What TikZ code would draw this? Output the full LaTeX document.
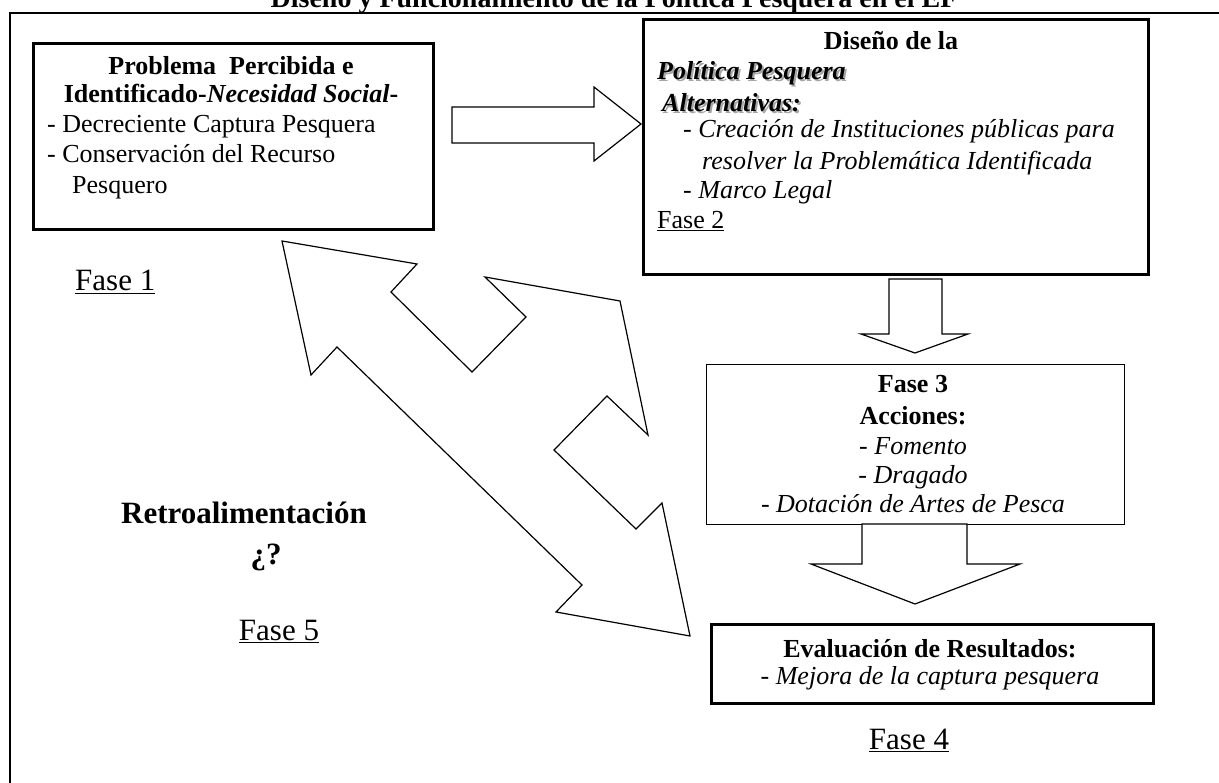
\documentclass[tikz,border=0pt]{standalone}
\usepackage{fontspec}
\setmainfont{Liberation Serif}
\begin{document}
\begin{tikzpicture}[x=1pt,y=-1pt,
  frame/.style={line width=2.6pt},
  thickbox/.style={draw, line width=2.8pt, inner sep=0pt, anchor=north west},
  thinbox/.style={draw, line width=1.4pt, inner sep=0pt, anchor=north west},
  blockarrow/.style={draw, line width=1.2pt, fill=white, line join=miter},
  txt/.style={inner sep=0pt, font=\fontsize{26}{30}\selectfont},
  big/.style={inner sep=0pt, font=\fontsize{31}{36}\selectfont},
  shadowtxt/.style={inner sep=0pt, font=\fontsize{26}{30}\selectfont, text=black!35},
]
\useasboundingbox (0,0) rectangle (1219,783);
\clip (0,0) rectangle (1219,783);
\draw[frame] (10,13) rectangle (1260,820);
\node[inner sep=0pt, anchor=base, font=\fontsize{28}{32}\selectfont\bfseries] (title) at (614,8) {Diseño y Funcionamiento de la Política Pesquera en el EF};

% boxes
\node[thickbox, minimum width=400pt, minimum height=186pt] (b1) at (32,42) {};
\node[thickbox, minimum width=505pt, minimum height=255pt] (b2) at (642,18) {};
\node[thinbox, minimum width=418pt, minimum height=160pt] (b3) at (706,364) {};
\node[thickbox, minimum width=442pt, minimum height=79pt] (b4) at (710,623) {};

% block arrows
\draw[blockarrow] (452,107) -- (594,107) -- (594,87) -- (641,124) -- (594,161) -- (594,143) -- (452,143) -- cycle;
\draw[blockarrow] (889,279) -- (942,279) -- (942,334) -- (968,334) -- (915,353) -- (861,334) -- (889,334) -- cycle;
\draw[blockarrow] (862,524) -- (967,524) -- (967,564) -- (1020,564) -- (915,604) -- (811,564) -- (862,564) -- cycle;
\draw[blockarrow] (282,241) -- (417,264) -- (391,292) -- (472,372) -- (526,317) -- (485,277) -- (620,301) -- (648,435) -- (607,396) -- (554,450) -- (636,529) -- (662,503) -- (690,636) -- (556,612) -- (582,585) -- (337,347) -- (311,375) -- cycle;

% box 1 text
\node[txt, anchor=base, font=\fontsize{26}{30}\selectfont\bfseries] (t11) at (231,75) {Problema\ \ Percibida e};
\node[txt, anchor=base, font=\fontsize{26}{30}\selectfont\bfseries] (t12) at (231,103) {Identificado-\textit{Necesidad Social}-};
\node[txt, anchor=base west] (t13) at (47,133) {- Decreciente Captura Pesquera};
\node[txt, anchor=base west] (t14) at (47,163) {- Conservación del Recurso};
\node[txt, anchor=base west] (t15) at (72,194) {Pesquero};
\node[big, anchor=base west] (f1) at (75,291) {\underline{Fase 1}};

% box 2 text
\node[txt, anchor=base, font=\fontsize{26}{30}\selectfont\bfseries] (t21) at (891,50) {Diseño de la};
\node[shadowtxt, anchor=base west, font=\fontsize{26}{30}\selectfont\bfseries\itshape] (s22) at (659,82) {Política Pesquera};
\node[txt, anchor=base west, font=\fontsize{26}{30}\selectfont\bfseries\itshape] (t22) at (657,80) {Política Pesquera};
\node[shadowtxt, anchor=base west, font=\fontsize{26}{30}\selectfont\bfseries\itshape] (s23) at (664,114) {Alternativas:};
\node[txt, anchor=base west, font=\fontsize{26}{30}\selectfont\bfseries\itshape] (t23) at (662,112) {Alternativas:};
\node[txt, anchor=base west, font=\fontsize{26}{30}\selectfont\itshape] (t24) at (683,138) {- Creación de Instituciones públicas para};
\node[txt, anchor=base west, font=\fontsize{26}{30}\selectfont\itshape] (t25) at (702,170) {resolver la Problemática Identificada};
\node[txt, anchor=base west, font=\fontsize{26}{30}\selectfont\itshape] (t26) at (683,199) {- Marco Legal};
\node[txt, anchor=base west] (f2) at (657,229) {\underline{Fase 2}};

% box 3 text
\node[txt, anchor=base, font=\fontsize{26}{30}\selectfont\bfseries] (t31) at (913,393) {Fase 3};
\node[txt, anchor=base, font=\fontsize{26}{30}\selectfont\bfseries] (t32) at (913,425) {Acciones:};
\node[txt, anchor=base] (t33) at (913,455) {- \textit{Fomento}};
\node[txt, anchor=base] (t34) at (913,484) {- \textit{Dragado}};
\node[txt, anchor=base] (t35) at (913,513) {- \textit{Dotación de Artes de Pesca}};

% box 4 text
\node[txt, anchor=base, font=\fontsize{26}{30}\selectfont\bfseries] (t41) at (930,657) {Evaluación de Resultados:};
\node[txt, anchor=base] (t42) at (930,684) {- \textit{Mejora de la captura pesquera}};
\node[big, anchor=base] (f4) at (909,749) {\underline{Fase 4}};

% feedback
\node[big, anchor=base, font=\fontsize{31}{36}\selectfont\bfseries] (r1) at (244,523) {Retroalimentación};
\node[big, anchor=base, font=\fontsize{31}{36}\selectfont\bfseries] (r2) at (266,565) {¿?};
\node[big, anchor=base] (f5) at (279,640) {\underline{Fase 5}};
\end{tikzpicture}
\end{document}
